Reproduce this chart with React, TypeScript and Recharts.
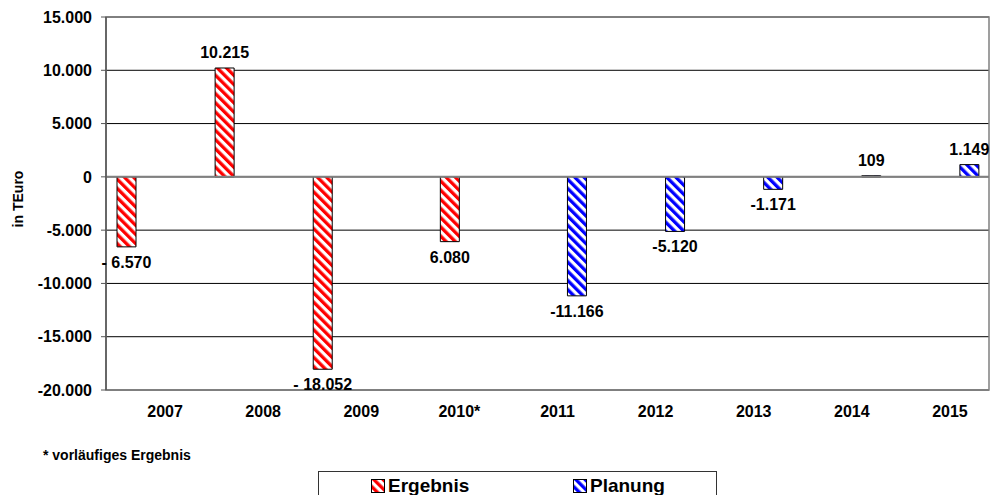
import { BarChart, Bar, XAxis, YAxis, CartesianGrid, ReferenceLine, ReferenceArea, LabelList } from "recharts";

const years = ["2007", "2008", "2009", "2010*", "2011", "2012", "2013", "2014", "2015"];
const ergebnis = [-6570, 10215, -18052, null, null, null, null, null, null];
// 2010 is only a preliminary result, kept as its own series
const vorlaeufig = [null, null, null, -6080, null, null, null, null, null];
const planung = [null, null, null, null, -11166, -5120, -1171, 109, 1149];
const valueLabels = ["- 6.570", "10.215", "- 18.052", "6.080", "-11.166", "-5.120", "-1.171", "109", "1.149"];
const yTicks = [-20000, -15000, -10000, -5000, 0, 5000, 10000, 15000];
const legendNames = ["Ergebnis", "Planung"];
const footnote = "* vorläufiges Ergebnis";
const yTitle = "in TEuro";

const FONT = "'Liberation Sans', Arial, sans-serif";
const RED = "#ff0000";
const BLUE = "#0000ff";

const data = years.map((year, i) => ({
  year,
  ergebnis: ergebnis[i],
  vorlaeufig: vorlaeufig[i],
  planung: planung[i],
}));

const fmt = (v: number) => {
  const s = Math.abs(v).toString().replace(/\B(?=(\d{3})+(?!\d))/g, ".");
  return v < 0 ? "-" + s : s;
};

function Hatch({ id, color }: { id: string; color: string }) {
  return (
    <pattern id={id} patternUnits="userSpaceOnUse" width="6.5" height="6.5" patternTransform="rotate(-45)">
      <rect width="6.5" height="6.5" fill="#fff" />
      <rect width="3.3" height="6.5" fill={color} />
    </pattern>
  );
}

const labelFor = (key: "ergebnis" | "vorlaeufig" | "planung") => (entry: any) => {
  const row = entry?.payload ?? entry;
  const v = row?.[key];
  if (v == null) return null;
  return { text: valueLabels[years.indexOf(row.year)], v };
};

function ValueLabel(props: any) {
  const { value } = props;
  if (!value || typeof value !== "object") return null;
  const vb = props.viewBox ?? props;
  const x = Number(vb.x);
  const y = Number(vb.y);
  const w = Number(vb.width);
  const h = Number(vb.height);
  const top = Math.min(y, y + h);
  const bottom = Math.max(y, y + h);
  const ty = value.v < 0 ? bottom + 21 : top - 10;
  return (
    <text x={x + w / 2} y={ty} textAnchor="middle" fontFamily={FONT} fontWeight="bold" fontSize={16} fill="#000">
      {value.text}
    </text>
  );
}

function YearTick({ x, y, payload }: any) {
  return (
    <text x={x + 10} y={y + 19} textAnchor="middle" fontFamily={FONT} fontWeight="bold" fontSize={16} fill="#000">
      {payload.value}
    </text>
  );
}

function Swatch({ id, color }: { id: string; color: string }) {
  return (
    <svg width={14} height={14} style={{ display: "block" }}>
      <defs>
        <Hatch id={id} color={color} />
      </defs>
      <rect x={0.5} y={0.5} width={13} height={13} fill={`url(#${id})`} stroke="#000" />
    </svg>
  );
}

export default function App() {
  return (
    <div style={{ position: "absolute", left: 0, top: 0, width: 995, height: 495, background: "#fff", fontFamily: FONT, overflow: "hidden" }}>
      <BarChart
        width={995}
        height={440}
        data={data}
        margin={{ top: 17, right: 6, bottom: 10, left: 0 }}
        barSize={19}
        barGap={10}
      >
        <defs>
          <Hatch id="hatchRed" color={RED} />
          <Hatch id="hatchBlue" color={BLUE} />
        </defs>
        <CartesianGrid vertical={false} stroke="#000" strokeWidth={1} />
        <ReferenceArea y1={-20000} y2={15000} fill="none" stroke="#808080" strokeWidth={1.5} />
        <XAxis dataKey="year" axisLine={false} tickLine={false} height={40} tick={<YearTick />} interval={0} />
        <YAxis
          type="number"
          domain={[-20000, 15000]}
          ticks={yTicks}
          tickFormatter={fmt}
          width={106}
          tickSize={5}
          tickMargin={9}
          axisLine={{ stroke: "#555", strokeWidth: 1.5 }}
          tickLine={{ stroke: "#555" }}
          tick={{ fontFamily: FONT, fontWeight: "bold", fontSize: 16, fill: "#000" }}
          label={{
            content: () => (
              <text transform="translate(23,199) rotate(-90)" textAnchor="middle" fontFamily={FONT} fontWeight="bold" fontSize={14} fill="#000">
                {yTitle}
              </text>
            ),
          }}
        />
        <ReferenceLine y={0} stroke="#808080" strokeWidth={2} />
        <Bar dataKey="ergebnis" fill="url(#hatchRed)" stroke="#000" strokeWidth={1} isAnimationActive={false}>
          <LabelList dataKey={labelFor("ergebnis")} content={<ValueLabel />} />
        </Bar>
        <Bar dataKey="vorlaeufig" fill="url(#hatchRed)" stroke="#000" strokeWidth={1} isAnimationActive={false}>
          <LabelList dataKey={labelFor("vorlaeufig")} content={<ValueLabel />} />
        </Bar>
        <Bar dataKey="planung" fill="url(#hatchBlue)" stroke="#000" strokeWidth={1} isAnimationActive={false}>
          <LabelList dataKey={labelFor("planung")} content={<ValueLabel />} />
        </Bar>
      </BarChart>

      <div style={{ position: "absolute", left: 43, top: 447, fontSize: 14, fontWeight: "bold", color: "#000" }}>{footnote}</div>

      <div
        style={{
          position: "absolute",
          left: 318,
          top: 471,
          width: 399,
          height: 40,
          border: "1px solid #333",
          boxSizing: "border-box",
        }}
      >
        <div style={{ position: "absolute", left: 52, top: 4, display: "flex", alignItems: "center", gap: 3 }}>
          <Swatch id="lgRed" color={RED} />
          <span style={{ fontSize: 19, fontWeight: "bold", lineHeight: "19px" }}>{legendNames[0]}</span>
        </div>
        <div style={{ position: "absolute", left: 254, top: 4, display: "flex", alignItems: "center", gap: 3 }}>
          <Swatch id="lgBlue" color={BLUE} />
          <span style={{ fontSize: 19, fontWeight: "bold", lineHeight: "19px" }}>{legendNames[1]}</span>
        </div>
      </div>
    </div>
  );
}
